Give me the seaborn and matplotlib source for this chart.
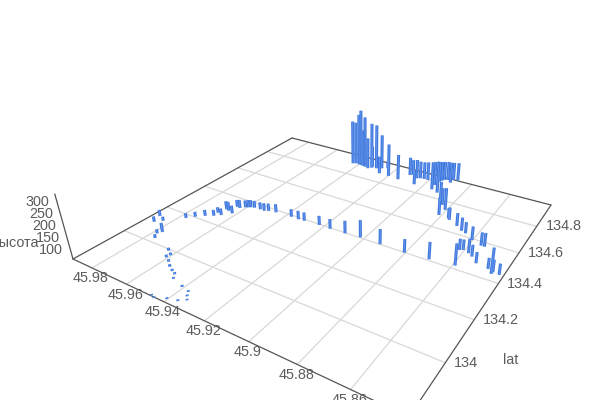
import matplotlib
matplotlib.use("Agg")
import matplotlib.pyplot as plt
import numpy as np
import pandas as pd
import seaborn as sns

# values
lon = [45.9865, 45.9882, 45.9838, 45.9796, 45.9768, 45.9779, 45.9758, 45.9636, 45.9604, 45.9607, 45.9576,
       45.9546, 45.9516, 45.9492, 45.9474, 45.9408, 45.9366, 45.9351, 45.9334, 45.9359, 45.9402, 45.9466,
       45.9446, 45.9769, 45.9742, 45.9710, 45.9677, 45.9680, 45.9653, 45.9668, 45.9650, 45.9621, 45.9642,
       45.9624, 45.9606, 45.9595, 45.9585, 45.9568, 45.9536, 45.9512, 45.9493, 45.9457, 45.9373, 45.9333,
       45.9303, 45.9225, 45.9167, 45.9091, 45.9018, 45.8920, 45.8804, 45.8697, 45.8590, 45.8619, 45.8606,
       45.8754, 45.8704, 45.8671, 45.8648, 45.8604, 45.8578, 45.8557, 45.8525, 45.8555, 45.8540, 45.8470,
       45.8448, 45.8446, 45.8419, 45.9433, 45.9419, 45.9399, 45.9386, 45.9373, 45.9357, 45.9335, 45.9321,
       45.9324, 45.9296, 45.9254, 45.9272, 45.9199, 45.9245, 45.9140, 45.9110, 45.9096, 45.9063, 45.9048,
       45.9028, 45.9045, 45.9007, 45.8947, 45.8955, 45.8910, 45.8949, 45.8944, 45.8936, 45.8921, 45.8898,
       45.8897, 45.8875, 45.8859, 45.8812, 45.8838, 45.8807, 45.8763]
lat = [134.099, 134.139, 134.121, 134.083, 134.065, 134.049, 134.024, 133.993, 133.977, 133.961, 133.947,
       133.929, 133.916, 133.908, 133.889, 133.873, 133.865, 133.848, 133.834, 133.817, 133.807, 133.795,
       133.790, 134.179, 134.204, 134.228, 134.245, 134.270, 134.263, 134.306, 134.302, 134.294, 134.342,
       134.340, 134.355, 134.361, 134.366, 134.371, 134.373, 134.372, 134.379, 134.386, 134.390, 134.389,
       134.392, 134.396, 134.395, 134.397, 134.403, 134.401, 134.399, 134.407, 134.419, 134.511, 134.518,
       134.676, 134.651, 134.630, 134.621, 134.592, 134.509, 134.496, 134.467, 134.575, 134.575, 134.457,
       134.437, 134.448, 134.445, 134.901, 134.908, 134.906, 134.905, 134.902, 134.899, 134.892, 134.906,
       134.916, 134.911, 134.876, 134.923, 134.874, 134.937, 134.868, 134.930, 134.937, 134.917, 134.925,
       134.928, 134.863, 134.927, 134.861, 134.901, 134.846, 134.939, 134.952, 134.964, 134.971, 134.954,
       134.984, 134.987, 134.785, 134.689, 134.765, 134.736, 134.685]
alt = [83, 87, 77, 82, 91, 77, 75, 71, 70, 70, 69, 69, 68, 67, 66, 67, 65, 65, 64, 65, 65, 64, 64, 81, 81,
       86, 86, 84, 89, 97, 101, 95, 91, 97, 91, 93, 93, 91, 91, 94, 94, 97, 94, 98, 97, 101, 103, 116, 137,
       127, 119, 135, 155, 109, 105, 117, 119, 119, 110, 120, 123, 111, 108, 118, 120, 107, 171, 113, 107,
       278, 272, 316, 340, 244, 314, 215, 286, 164, 281, 145, 231, 220, 93, 183, 148, 136, 153, 144, 144,
       131, 149, 193, 175, 212, 158, 154, 151, 151, 160, 146, 148, 155, 142, 140, 163, 106]

lon_ticks = [45.98, 45.96, 45.94, 45.92, 45.9, 45.88, 45.86]
lat_ticks = [134, 134.2, 134.4, 134.6, 134.8]
alt_ticks = [100, 150, 200, 250, 300]

LON_MIN, LON_MAX = 45.84021, 45.99174
LAT_MIN, LAT_MAX = 133.79292, 134.98492
ALT_MIN, ALT_MAX = 58, 333

# camera: where the floor corners land on screen, and the vanishing point of the vertical
FLOOR = {(0, 0): (409, 417), (0, 1): (551, 205), (1, 0): (73, 259), (1, 1): (292, 138)}
VANISH = np.array([365, 1300, 1.0])


def floor_matrix():
    rows, rhs = [], []
    for (u, v), (x, y) in FLOOR.items():
        rows.append([u, v, 1, 0, 0, 0, -u * x, -v * x])
        rows.append([0, 0, 0, u, v, 1, -u * y, -v * y])
        rhs += [x, y]
    h = np.linalg.solve(np.array(rows, float), np.array(rhs, float))
    return np.append(h, 1.0).reshape(3, 3)


H = floor_matrix()
Z_SCALE = -0.0588 * (H @ [1, 0, 1])[2]


def project(lo, la, al=ALT_MIN):
    """Longitude, latitude and height to screen pixels."""
    u = (lo - LON_MIN) / (LON_MAX - LON_MIN)
    v = (la - LAT_MIN) / (LAT_MAX - LAT_MIN)
    zn = (al - ALT_MIN) / (ALT_MAX - ALT_MIN)
    p = H @ [u, v, 1] + zn * Z_SCALE * VANISH
    return p[0] / p[2], p[1] / p[2]


def segments(pairs):
    """Long table with two rows per segment, for lineplot's units."""
    rows = []
    for i, (a, b) in enumerate(pairs):
        for end in (a, b):
            x, y = project(*end)
            rows.append({"seg": i, "sx": x, "sy": y})
    return pd.DataFrame(rows)


def draw(ax, df, color, lw, **kw):
    sns.lineplot(data=df, x="sx", y="sy", units="seg", estimator=None, sort=False,
                 color=color, linewidth=lw, legend=False, ax=ax, **kw)


sns.set_theme(style="white")
plt.rcParams["font.family"] = ["Liberation Sans", "DejaVu Sans"]

fig = plt.figure(figsize=(6, 4), dpi=100)
ax = fig.add_axes([0, 0, 1, 1])

grid = [((t, LAT_MIN), (t, LAT_MAX)) for t in lon_ticks] + [((LON_MIN, t), (LON_MAX, t)) for t in lat_ticks]
draw(ax, segments(grid), "#d8d8d8", 0.9)

edges = [
    ((LON_MIN, LAT_MIN), (LON_MAX, LAT_MIN)),
    ((LON_MIN, LAT_MIN), (LON_MIN, LAT_MAX)),
    ((LON_MAX, LAT_MIN), (LON_MAX, LAT_MAX)),
    ((LON_MIN, LAT_MAX), (LON_MAX, LAT_MAX)),
    ((LON_MAX, LAT_MIN, ALT_MIN), (LON_MAX, LAT_MIN, ALT_MAX)),
]
draw(ax, segments(edges), "#555555", 0.9)

bars = [((a, b, ALT_MIN), (a, b, c)) for a, b, c in zip(lon, lat, alt)]
draw(ax, segments(bars), "#3f78de", 2.2, solid_capstyle="butt")
draw(ax, segments(bars), "#6f9cec", 0.5, solid_capstyle="butt")

TEXT = "#5c5c5c"
for t in lon_ticks:
    x, y = project(t, LAT_MIN)
    ax.text(x - 1, y + 10.5, f"{t:g}", ha="center", va="center", fontsize=10.4, color=TEXT)
for t in lat_ticks:
    x, y = project(LON_MIN, t)
    ax.text(x + 9, y, f"{t:g}", ha="left", va="center", fontsize=10.4, color=TEXT)
for t in alt_ticks:
    x, y = project(LON_MAX, LAT_MIN, t)
    ax.text(x - 7.5, y, f"{t}", ha="right", va="center", fontsize=10.4, color=TEXT)
ax.text(39, 243, "высота", ha="right", va="center", fontsize=10.4, color=TEXT)
ax.text(503, 360, "lat", ha="left", va="center", fontsize=10.4, color=TEXT)

ax.set_xlim(0, 600)
ax.set_ylim(400, 0)
ax.axis("off")

fig.savefig("out.png", dpi=100)
